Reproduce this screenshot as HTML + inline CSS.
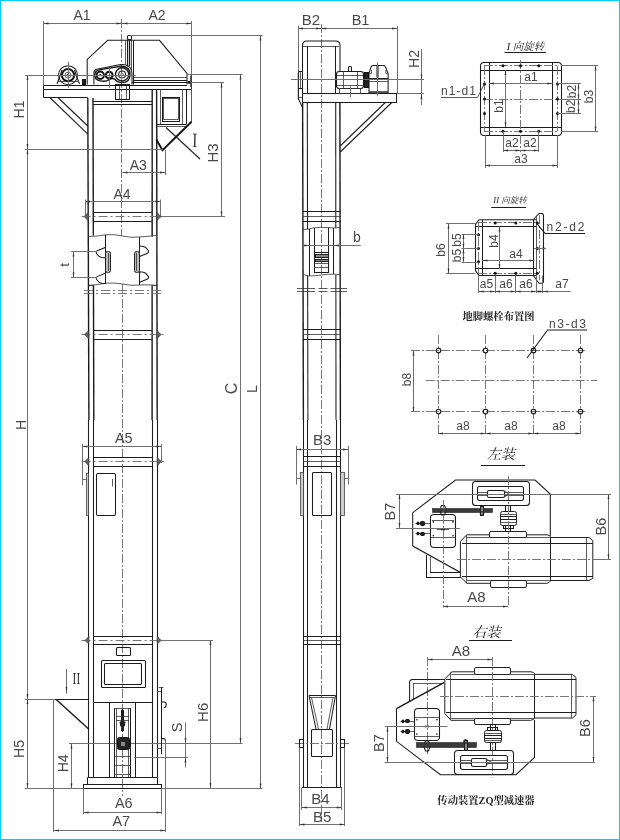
<!DOCTYPE html>
<html lang="zh"><head><meta charset="utf-8"><title>TH bucket elevator outline drawing</title>
<style>
html,body{margin:0;padding:0;background:#fff}
#wrap{position:relative;width:620px;height:840px;box-sizing:border-box;border:1px solid #00ccff;background:#fff;overflow:hidden}
svg{will-change:transform;position:absolute;left:-1px;top:-1px;width:620px;height:840px;display:block}
.m{stroke:#1c1c1c;stroke-width:1.05;fill:none}
.m2{stroke:#1a1a1a;stroke-width:1.4;fill:none}
.n{stroke:#333;stroke-width:.8;fill:none}
.t{stroke:#707070;stroke-width:1;fill:none}
.c{stroke:#777;stroke-width:1;fill:none;stroke-dasharray:9 2 2 2}
.d{stroke:#777;stroke-width:1;fill:none;stroke-dasharray:9 3 2 3}
.b{stroke:#111;stroke-width:1.9;fill:none;stroke-linecap:round}
.b2{stroke:#111;stroke-width:2;fill:none}
.k{stroke:#111;stroke-width:1;fill:#222}
.g{stroke:#222;stroke-width:1;fill:#888}
.g2{stroke:#222;stroke-width:1;fill:#bbb}
.tri{stroke:#333;stroke-width:.6;fill:#666}
.g3{stroke:#444;stroke-width:.8;fill:#ccc}
.ch{stroke:#222;stroke-width:.6;fill:#3a3a3a}
.bk{fill:#111;stroke:none}
.ar{fill:#333;stroke:none}
.w{stroke:#222;stroke-width:1;fill:#fff}
text{font-family:"Liberation Sans","Noto Sans CJK SC",sans-serif;fill:#484848}
.sf{font-family:"Liberation Serif",serif;fill:#333}
.cj{font-family:"Liberation Serif","Noto Serif CJK SC",serif;fill:#222}
</style></head><body>
<div id="wrap">
<svg width="620" height="840" viewBox="0 0 620 840">
<g id="front-view">
<line class="t" x1="43" y1="23.5" x2="191.5" y2="23.5"/>
<path class="ar" d="M43.5 23.5 L48.5 22.6 L48.5 24.4 Z"/>
<path class="ar" d="M121.5 23.5 L116.5 24.4 L116.5 22.6 Z"/>
<path class="ar" d="M122.5 23.5 L127.5 22.6 L127.5 24.4 Z"/>
<path class="ar" d="M191.5 23.5 L186.5 24.4 L186.5 22.6 Z"/>
<line class="t" x1="43.5" y1="21" x2="43.5" y2="85"/>
<line class="t" x1="191.5" y1="21" x2="191.5" y2="89"/>
<text class="tx" x="82" y="20" font-size="14" text-anchor="middle">A1</text>
<text class="tx" x="157" y="20" font-size="14" text-anchor="middle">A2</text>
<line class="c" x1="121.5" y1="19" x2="121.5" y2="236"/>
<line class="c" x1="122.5" y1="284" x2="122.5" y2="796"/>
<path class="m" d="M87.2 84.6 L87.2 59.4 L107.7 40.3 L159.5 40.3 L187 73.5 L187 84.6"/>
<line class="n" x1="133.8" y1="77.5" x2="187" y2="77.5"/>
<line class="m" x1="133.8" y1="80.5" x2="187" y2="80.5"/>
<line class="m" x1="132" y1="82.5" x2="187" y2="82.5"/>
<line class="n" x1="125.5" y1="40.3" x2="125.5" y2="64.5"/>
<line class="m" x1="127.5" y1="39.5" x2="127.5" y2="66.5"/>
<line class="m2" x1="129.5" y1="39.5" x2="129.5" y2="66"/>
<line class="n" x1="131.5" y1="39.5" x2="131.5" y2="70"/>
<line class="m" x1="133.5" y1="40.3" x2="133.5" y2="84.6"/>
<rect class="m" x="127.5" y="35.5" width="4" height="4" rx="1"/>
<circle class="bk" cx="189" cy="82.3" r="1.5"/>
<line class="n" x1="190.5" y1="76" x2="190.5" y2="87"/>
<line class="m" x1="44" y1="85.5" x2="187" y2="85.5"/>
<line class="m" x1="44" y1="89.5" x2="191" y2="89.5"/>
<line class="m" x1="43.5" y1="85.2" x2="43.5" y2="97.7"/>
<line class="m" x1="44" y1="97.5" x2="87.8" y2="97.5"/>
<line class="m" x1="93" y1="101.5" x2="152.2" y2="101.5"/>
<line class="m" x1="93" y1="104.5" x2="152.2" y2="104.5"/>
<rect class="m" x="115.5" y="84.5" width="14" height="15"/>
<line class="n" x1="119.5" y1="84" x2="119.5" y2="99"/>
<line class="n" x1="126.5" y1="84" x2="126.5" y2="99"/>
<line class="m" x1="50.3" y1="98" x2="87.8" y2="134.2"/>
<line class="m" x1="58.4" y1="98" x2="87.8" y2="126"/>
<circle class="m" cx="68" cy="75.2" r="9.5"/>
<circle class="b2" cx="68" cy="75.2" r="6.1"/>
<circle class="n" cx="68" cy="75.2" r="3"/>
<circle class="bk" cx="68" cy="75.2" r="1.2"/>
<path class="m" d="M57 84 L60 76 L62 70"/>
<path class="m" d="M79.5 84 L76.5 76 L74.5 70"/>
<line class="n" x1="57.5" y1="81.5" x2="79" y2="81.5"/>
<rect class="k" x="82.5" y="79.5" width="3" height="5"/>
<line class="t" x1="68.5" y1="62" x2="68.5" y2="88"/>
<path class="m" d="M93.9 84.6 L93.9 72.5 Q94.2 69.8 96.8 69.3 L120.5 64.6 Q131.5 63.6 132 74 L132 84.6"/>
<path class="m2" d="M100 69.6 L121 66.3 Q130 66.3 130 74.5 Q130 82.6 122 82.6 Q117 82.6 114.8 79.2 Q112 77.6 109.2 79.6 Q106 82 100.3 80.9 Q94.8 80 94.8 75.2 Q94.8 70.4 100 69.6 Z"/>
<circle class="b2" cx="100.3" cy="75.2" r="3.7"/>
<circle class="bk" cx="100.3" cy="75.2" r="1.1"/>
<circle class="b2" cx="109.2" cy="75.2" r="3.4"/>
<circle class="m2" cx="122.1" cy="74.4" r="6.6"/>
<circle class="m" cx="122.1" cy="74.4" r="3.5"/>
<circle class="n" cx="122.1" cy="74.4" r="1.2"/>
<line class="t" x1="109.5" y1="68" x2="109.5" y2="88"/>
<line class="m2" x1="87.8" y1="98" x2="88.9" y2="420"/>
<line class="m" x1="88.5" y1="420" x2="88.5" y2="777.5"/>
<line class="m2" x1="156.6" y1="89" x2="157.2" y2="420"/>
<line class="m" x1="157.5" y1="420" x2="157.5" y2="777.5"/>
<line class="m2" x1="93" y1="98" x2="93.34" y2="235.6"/>
<line class="m2" x1="152.2" y1="89" x2="152.16" y2="236.6"/>
<line class="m2" x1="93.47" y1="285.3" x2="93.8" y2="420"/>
<line class="m" x1="93.5" y1="420" x2="93.5" y2="777.5"/>
<line class="m2" x1="152.14" y1="285.3" x2="152.1" y2="420"/>
<line class="m" x1="152.5" y1="420" x2="152.5" y2="777.5"/>
<line class="n" x1="191.5" y1="74" x2="191.5" y2="122.5"/>
<line class="m" x1="156.6" y1="124.5" x2="186.5" y2="124.5"/>
<line class="n" x1="156.6" y1="126.5" x2="186.5" y2="126.5"/>
<line class="n" x1="160.5" y1="89" x2="160.5" y2="124"/>
<line class="n" x1="182.5" y1="89" x2="182.5" y2="124"/>
<line class="m" x1="186.5" y1="89" x2="186.5" y2="124"/>
<rect class="m" x="162.5" y="97.5" width="17" height="24"/>
<rect class="n" x="163.5" y="98.5" width="15" height="21"/>
<path class="b" d="M156.6 140 L162.5 150.3 L191 122.2"/>
<line class="n" x1="156.8" y1="127.5" x2="156.8" y2="140"/>
<line class="m" x1="166" y1="127.5" x2="200" y2="159"/>
<text class="sf" font-size="20.5" text-anchor="middle" transform="translate(194.8 147) rotate(1) scale(.72 1)">I</text>
<line class="t" x1="27.5" y1="75" x2="27.5" y2="788"/>
<path class="ar" d="M27.5 75 L28.4 80 L26.6 80 Z"/>
<path class="ar" d="M27.5 149 L26.6 144 L28.4 144 Z"/>
<path class="ar" d="M27.5 149 L28.4 154 L26.6 154 Z"/>
<line class="t" x1="25" y1="75.5" x2="136" y2="75.5"/>
<line class="t" x1="25" y1="149.5" x2="162.5" y2="149.5"/>
<text class="tx" x="23.7" y="109.5" font-size="14" text-anchor="middle" transform="rotate(-90 23.7 109.5)">H1</text>
<text class="tx" x="26" y="425" font-size="14" text-anchor="middle" transform="rotate(-90 26 425)">H</text>
<path class="ar" d="M27.5 699 L26.6 694 L28.4 694 Z"/>
<path class="ar" d="M27.5 699 L28.4 704 L26.6 704 Z"/>
<path class="ar" d="M27.5 788 L26.6 783 L28.4 783 Z"/>
<line class="t" x1="25" y1="699.5" x2="55" y2="699.5"/>
<line class="t" x1="25" y1="788.5" x2="84" y2="788.5"/>
<text class="tx" x="23.5" y="749" font-size="14" text-anchor="middle" transform="rotate(-90 23.5 749)">H5</text>
<line class="t" x1="130" y1="35.5" x2="262.5" y2="35.5"/>
<line class="t" x1="260.5" y1="35.5" x2="260.5" y2="788.5"/>
<path class="ar" d="M260.5 35.5 L261.4 40.5 L259.6 40.5 Z"/>
<path class="ar" d="M260.5 788.5 L259.6 783.5 L261.4 783.5 Z"/>
<line class="t" x1="187" y1="74.5" x2="242.5" y2="74.5"/>
<line class="t" x1="240.5" y1="74.5" x2="240.5" y2="743"/>
<path class="ar" d="M240.5 74.5 L241.4 79.5 L239.6 79.5 Z"/>
<path class="ar" d="M240.5 743 L239.6 738 L241.4 738 Z"/>
<line class="t" x1="191" y1="82.5" x2="224" y2="82.5"/>
<line class="t" x1="221.5" y1="82.5" x2="221.5" y2="216.5"/>
<path class="ar" d="M221.5 82.5 L222.4 87.5 L220.6 87.5 Z"/>
<path class="ar" d="M221.5 216.5 L220.6 211.5 L222.4 211.5 Z"/>
<line class="t" x1="159" y1="216.5" x2="225" y2="216.5"/>
<text class="tx" x="218" y="153" font-size="15" text-anchor="middle" transform="rotate(-90 218 153)">H3</text>
<text class="tx" x="237.2" y="388.4" font-size="16" text-anchor="middle" transform="rotate(-90 237.2 388.4)">C</text>
<text class="tx" x="257" y="389" font-size="14.5" text-anchor="middle" transform="rotate(-90 257 389)">L</text>
<line class="t" x1="157" y1="788.5" x2="262.5" y2="788.5"/>
<line class="t" x1="69" y1="743.5" x2="242.5" y2="743.5"/>
<line class="t" x1="122.5" y1="172.5" x2="165" y2="172.5"/>
<path class="ar" d="M122.5 172.5 L127.5 171.6 L127.5 173.4 Z"/>
<path class="ar" d="M165 172.5 L160 173.4 L160 171.6 Z"/>
<line class="t" x1="165.5" y1="150" x2="165.5" y2="175"/>
<text class="tx" x="138.3" y="170" font-size="14" text-anchor="middle">A3</text>
<line class="t" x1="85" y1="201.5" x2="160.5" y2="201.5"/>
<path class="ar" d="M85 201.5 L90 200.6 L90 202.4 Z"/>
<path class="ar" d="M160.5 201.5 L155.5 202.4 L155.5 200.6 Z"/>
<line class="t" x1="85.5" y1="199.5" x2="85.5" y2="217.5"/>
<line class="t" x1="160.5" y1="199.5" x2="160.5" y2="217.5"/>
<text class="tx" x="122" y="199" font-size="14" text-anchor="middle">A4</text>
<line class="m" x1="93.29" y1="212.5" x2="152.16" y2="212.5"/>
<line class="m" x1="93.29" y1="221.5" x2="152.16" y2="221.5"/>
<line class="d" x1="81.6" y1="216.5" x2="164.5" y2="216.5"/>
<path class="tri" d="M84.1 216.5 L88.2 212.4 L88.2 220.8 Z"/>
<path class="tri" d="M160.92 216.5 L156.82 212.4 L156.82 220.8 Z"/>
<line class="m" x1="93.59" y1="330.5" x2="152.13" y2="330.5"/>
<line class="m" x1="93.59" y1="339.5" x2="152.13" y2="339.5"/>
<line class="d" x1="81.6" y1="334.5" x2="164.5" y2="334.5"/>
<path class="tri" d="M84.51 334.5 L88.61 330.7 L88.61 338.8 Z"/>
<path class="tri" d="M161.14 334.5 L157.04 330.7 L157.04 338.8 Z"/>
<line class="m" x1="93.8" y1="457.5" x2="152.1" y2="457.5"/>
<line class="m" x1="93.8" y1="466.5" x2="152.1" y2="466.5"/>
<line class="d" x1="81.6" y1="461.5" x2="164.5" y2="461.5"/>
<path class="tri" d="M84.8 461.5 L88.9 457.4 L88.9 466.1 Z"/>
<path class="tri" d="M161.3 461.5 L157.2 457.4 L157.2 466.1 Z"/>
<line class="m" x1="93.8" y1="636.5" x2="152.1" y2="636.5"/>
<line class="m" x1="93.8" y1="644.5" x2="152.1" y2="644.5"/>
<line class="d" x1="81.6" y1="640.5" x2="164.5" y2="640.5"/>
<path class="tri" d="M84.8 640.5 L88.9 636.4 L88.9 643.8 Z"/>
<path class="tri" d="M161.3 640.5 L157.2 636.4 L157.2 643.8 Z"/>
<path class="n" d="M88.3 236.5 Q97 236.5 105.8 234.8 Q114 234 122.5 236 Q131 238 139 237 Q148 236.5 156.9 235.3"/>
<path class="n" d="M88.6 285.3 Q97 285 105.8 283.2 Q114 282.5 122.5 284 Q131 286 139 285 Q148 284.5 157.2 285.3"/>
<line class="m" x1="105.5" y1="234.8" x2="105.5" y2="283.2"/>
<line class="m" x1="139.5" y1="237" x2="139.5" y2="285"/>
<path class="m" d="M105.8 247.2 L97.2 250.8 Q95.4 252.2 97 254.2 Q99.3 257.5 102.3 257.7 L105.8 257.8"/>
<path class="m" d="M105.8 273 L97.2 276.6 Q95.4 278 97 280 Q99.3 283.3 102.3 283.5 L105.8 283.6"/>
<path class="m" d="M139 256.8 L147.6 253.2 Q149.4 251.8 147.8 249.8 Q145.5 246.5 142.5 246.3 L139 246.2"/>
<path class="m" d="M139 282.6 L147.6 279 Q149.4 277.6 147.8 275.6 Q145.5 272.3 142.5 272.1 L139 272"/>
<rect class="g2" x="105.5" y="251.5" width="5" height="21" rx="2"/>
<rect class="g2" x="134.5" y="251.5" width="5" height="21" rx="2"/>
<line class="n" x1="108.5" y1="253" x2="108.5" y2="271"/>
<line class="n" x1="136.5" y1="253" x2="136.5" y2="271"/>
<line class="t" x1="73.5" y1="251.6" x2="73.5" y2="277.3"/>
<path class="ar" d="M73.5 251.6 L74.4 256.6 L72.6 256.6 Z"/>
<path class="ar" d="M73.5 277.3 L72.6 272.3 L74.4 272.3 Z"/>
<line class="t" x1="71" y1="251.5" x2="97" y2="251.5"/>
<line class="t" x1="71" y1="277.5" x2="97" y2="277.5"/>
<text class="tx" x="69" y="265" font-size="13" text-anchor="middle" transform="rotate(-90 69 265)">t</text>
<line class="d" x1="84" y1="290.5" x2="161" y2="290.5"/>
<line class="d" x1="84" y1="293.5" x2="161" y2="293.5"/>
<line class="n" x1="88.9" y1="285.5" x2="93.8" y2="285.5"/>
<line class="n" x1="152.1" y1="285.5" x2="157.2" y2="285.5"/>
<line class="t" x1="82.3" y1="446.5" x2="161.3" y2="446.5"/>
<path class="ar" d="M82.3 446.5 L87.3 445.6 L87.3 447.4 Z"/>
<path class="ar" d="M161.3 446.5 L156.3 447.4 L156.3 445.6 Z"/>
<line class="t" x1="82.5" y1="444" x2="82.5" y2="485.5"/>
<line class="t" x1="82.3" y1="479.5" x2="86.3" y2="479.5"/>
<line class="t" x1="161.5" y1="444" x2="161.5" y2="463"/>
<text class="tx" x="123.8" y="443" font-size="14.5" text-anchor="middle">A5</text>
<rect class="m" x="96.5" y="473.5" width="19" height="42" rx="1.5"/>
<rect class="g3" x="86.5" y="473.5" width="2" height="42"/>
<line class="n" x1="112.5" y1="479" x2="112.5" y2="486.5"/>
<rect class="m" x="116.5" y="647.5" width="14" height="8" rx="1"/>
<rect class="m" x="101.5" y="660.5" width="44" height="27" rx="1"/>
<rect class="m" x="104.5" y="663.5" width="37" height="21" rx="1"/>
<line class="m" x1="93.8" y1="702.5" x2="152.1" y2="702.5"/>
<line class="m" x1="55" y1="699.5" x2="88.9" y2="699.5"/>
<line class="m2" x1="56.2" y1="699.5" x2="88.9" y2="729.3"/>
<line class="t" x1="53.5" y1="699" x2="53.5" y2="832"/>
<text class="sf" font-size="16" text-anchor="middle" transform="translate(76.4 683.6) scale(.72 1)">II</text>
<line class="t" x1="66.5" y1="669" x2="66.5" y2="693.7"/>
<path class="ar" d="M66.5 692 L65.6 687 L67.4 687 Z"/>
<line class="t" x1="71.5" y1="743.5" x2="71.5" y2="788.5"/>
<path class="ar" d="M71.5 743.5 L72.4 748.5 L70.6 748.5 Z"/>
<path class="ar" d="M71.5 788.5 L70.6 783.5 L72.4 783.5 Z"/>
<text class="tx" x="67.7" y="763.3" font-size="14" text-anchor="middle" transform="rotate(-90 67.7 763.3)">H4</text>
<line class="m" x1="109.5" y1="702.5" x2="109.5" y2="777.5"/>
<line class="m" x1="135.5" y1="702.5" x2="135.5" y2="777.5"/>
<line class="m" x1="114.5" y1="708" x2="114.5" y2="777.5"/>
<line class="m" x1="130.5" y1="708" x2="130.5" y2="777.5"/>
<line class="n" x1="114" y1="708.5" x2="130.5" y2="708.5"/>
<line class="n" x1="116.5" y1="708" x2="116.5" y2="777.5"/>
<line class="n" x1="128.5" y1="708" x2="128.5" y2="777.5"/>
<rect class="k" x="121.5" y="709.5" width="2" height="13" rx="1"/>
<path class="k" d="M120 722 L125 722 L124.2 726 L123.3 727 L123.3 731 L121.7 731 L121.7 727 L120.8 726 Z"/>
<line class="n" x1="116" y1="716.5" x2="129" y2="716.5"/>
<line class="n" x1="116" y1="720.5" x2="129" y2="720.5"/>
<rect class="k" x="117.5" y="737.5" width="12" height="12" rx="2"/>
<rect class="g" x="120.5" y="741.5" width="5" height="5" rx="1"/>
<line class="n" x1="114" y1="756.5" x2="130.5" y2="756.5"/>
<line class="n" x1="114" y1="765.5" x2="130.5" y2="765.5"/>
<line class="n" x1="114" y1="774.5" x2="130.5" y2="774.5"/>
<line class="m" x1="87.5" y1="777.5" x2="157" y2="777.5"/>
<line class="m" x1="83.7" y1="784.5" x2="161.5" y2="784.5"/>
<line class="m" x1="83.7" y1="788.5" x2="161.5" y2="788.5"/>
<line class="m" x1="87.5" y1="777.5" x2="87.5" y2="784"/>
<line class="m" x1="157.5" y1="777.5" x2="157.5" y2="784"/>
<line class="m" x1="83.5" y1="784" x2="83.5" y2="788.5"/>
<line class="m" x1="161.5" y1="784" x2="161.5" y2="788.5"/>
<line class="m" x1="161.5" y1="687" x2="161.5" y2="754.3"/>
<line class="n" x1="158.5" y1="687.5" x2="163.5" y2="687.5"/>
<line class="n" x1="157.2" y1="691.5" x2="161.4" y2="691.5"/>
<line class="n" x1="157.2" y1="748.5" x2="161.4" y2="748.5"/>
<path class="m" d="M161.4 702 L164.5 702 Q166.3 702.3 166.2 704.8 Q166.2 707.6 163.6 707.8"/>
<path class="m" d="M161.4 738.6 L164 738.6 Q165.4 738.8 165.4 741"/>
<line class="t" x1="165.5" y1="741" x2="165.5" y2="832"/>
<line class="t" x1="160" y1="640.5" x2="213" y2="640.5"/>
<line class="t" x1="210.5" y1="640" x2="210.5" y2="788"/>
<path class="ar" d="M210.5 640 L211.4 645 L209.6 645 Z"/>
<path class="ar" d="M210.5 788 L209.6 783 L211.4 783 Z"/>
<text class="tx" x="207.8" y="712.3" font-size="15" text-anchor="middle" transform="rotate(-90 207.8 712.3)">H6</text>
<line class="t" x1="185.5" y1="722.5" x2="185.5" y2="767.5"/>
<path class="ar" d="M185.5 743 L184.6 738 L186.4 738 Z"/>
<path class="ar" d="M185.5 757.5 L186.4 762.5 L184.6 762.5 Z"/>
<line class="t" x1="134" y1="757.5" x2="187.9" y2="757.5"/>
<text class="tx" x="181.5" y="727.5" font-size="14.5" text-anchor="middle" transform="rotate(-90 181.5 727.5)">S</text>
<line class="t" x1="83.7" y1="812.5" x2="161.5" y2="812.5"/>
<path class="ar" d="M83.7 812.5 L88.7 811.6 L88.7 813.4 Z"/>
<path class="ar" d="M161.5 812.5 L156.5 813.4 L156.5 811.6 Z"/>
<line class="t" x1="83.5" y1="788.5" x2="83.5" y2="814"/>
<line class="t" x1="161.5" y1="788.5" x2="161.5" y2="814"/>
<text class="tx" x="123.8" y="808.2" font-size="14.5" text-anchor="middle">A6</text>
<line class="t" x1="53.9" y1="830.5" x2="165.5" y2="830.5"/>
<path class="ar" d="M53.9 830.5 L58.9 829.6 L58.9 831.4 Z"/>
<path class="ar" d="M165.5 830.5 L160.5 831.4 L160.5 829.6 Z"/>
<text class="tx" x="121.3" y="825.8" font-size="14.5" text-anchor="middle">A7</text>
</g>
<g id="side-view">
<line class="t" x1="298" y1="28.5" x2="397" y2="28.5"/>
<path class="ar" d="M298 28.5 L303 27.6 L303 29.4 Z"/>
<path class="ar" d="M321.2 28.5 L316.2 29.4 L316.2 27.6 Z"/>
<path class="ar" d="M321.2 28.5 L326.2 27.6 L326.2 29.4 Z"/>
<path class="ar" d="M397 28.5 L392 29.4 L392 27.6 Z"/>
<line class="t" x1="298.5" y1="26" x2="298.5" y2="100"/>
<line class="t" x1="397.5" y1="26" x2="397.5" y2="94"/>
<text class="tx" x="311" y="25" font-size="15" text-anchor="middle">B2</text>
<text class="tx" x="360.5" y="25" font-size="14.5" text-anchor="middle">B1</text>
<line class="c" x1="321.5" y1="24" x2="321.5" y2="250"/>
<line class="c" x1="321.5" y1="250" x2="321.5" y2="822"/>
<path class="m" d="M302.5 94 L302.5 45.5 Q302.5 41 307 41 L335.5 41 Q340 41 340 45.5 L340 72"/>
<line class="n" x1="303" y1="46.5" x2="339" y2="46.5"/>
<line class="m" x1="307.5" y1="46" x2="307.5" y2="94"/>
<line class="m" x1="335.5" y1="46" x2="335.5" y2="94"/>
<rect class="m" x="302.5" y="93.5" width="94" height="9"/>
<path class="m" d="M302.5 71.4 L299.6 71.4 Q298.3 71.4 298.3 73 L298.3 98.6 L302.5 107.5"/>
<line class="n" x1="300.5" y1="72" x2="300.5" y2="88"/>
<line class="m" x1="298.3" y1="88.5" x2="302.5" y2="88.5"/>
<line class="n" x1="298.3" y1="97.5" x2="302.5" y2="97.5"/>
<line class="m" x1="391.8" y1="102.5" x2="340.2" y2="152"/>
<line class="m" x1="385.3" y1="102.5" x2="340.2" y2="146"/>
<line class="m2" x1="302.6" y1="102.5" x2="303.4" y2="420"/>
<line class="m" x1="303.5" y1="420" x2="303.5" y2="787.5"/>
<line class="m2" x1="339.9" y1="102.5" x2="340.4" y2="420"/>
<line class="m" x1="340.5" y1="420" x2="340.5" y2="787.5"/>
<line class="m" x1="307.3" y1="102.5" x2="307.54" y2="229.3"/>
<line class="m" x1="335.7" y1="102.5" x2="335.82" y2="228"/>
<line class="m" x1="307.63" y1="275.3" x2="307.9" y2="420"/>
<line class="m" x1="307.5" y1="420" x2="307.5" y2="787.5"/>
<line class="m" x1="335.86" y1="275" x2="336" y2="420"/>
<line class="m" x1="336.5" y1="420" x2="336.5" y2="787.5"/>
<rect class="m" x="336.5" y="71.5" width="27" height="17" rx="2.8"/>
<line class="n" x1="343.5" y1="71.4" x2="343.5" y2="88.9"/>
<line class="n" x1="357.5" y1="71.4" x2="357.5" y2="88.9"/>
<line class="n" x1="337" y1="75.5" x2="363" y2="75.5"/>
<line class="n" x1="337" y1="85.5" x2="363" y2="85.5"/>
<rect class="m" x="348.5" y="66.5" width="3" height="5" rx="1"/>
<rect class="n" x="339.5" y="88.5" width="21" height="5"/>
<rect class="k" x="364.5" y="72.5" width="4" height="15"/>
<path class="m" d="M369 92.8 L369 73 L371.2 66.6 Q371.8 65.4 373.2 65.4 L383.4 65.4 Q385.5 65.6 386.5 69.5 L388.1 73.6 L388.1 92.8 Z"/>
<line class="b2" x1="377.5" y1="65.4" x2="377.5" y2="77.6"/>
<line class="m" x1="369" y1="78.5" x2="388.1" y2="78.5"/>
<line class="n" x1="369" y1="79.5" x2="388.1" y2="79.5"/>
<line class="n" x1="369" y1="81.5" x2="388.1" y2="81.5"/>
<line class="n" x1="369" y1="91.5" x2="388.1" y2="91.5"/>
<path class="n" d="M369.3 73.6 L371.5 73.6 L371.5 70"/>
<path class="n" d="M387.8 73.6 L385.8 73.6 L385.8 70"/>
<line class="t" x1="377.5" y1="62.3" x2="377.5" y2="96.2"/>
<line class="t" x1="350.5" y1="86" x2="350.5" y2="97"/>
<line class="t" x1="291" y1="79.5" x2="424" y2="79.5"/>
<line class="t" x1="397" y1="93.5" x2="424" y2="93.5"/>
<line class="t" x1="421.5" y1="49" x2="421.5" y2="105"/>
<path class="ar" d="M421.5 79.5 L420.6 74.5 L422.4 74.5 Z"/>
<path class="ar" d="M421.5 94 L422.4 99 L420.6 99 Z"/>
<text class="tx" x="418.5" y="59" font-size="14" text-anchor="middle" transform="rotate(-90 418.5 59)">H2</text>
<line class="m" x1="303" y1="211.5" x2="341" y2="211.5"/>
<line class="n" x1="303" y1="216.5" x2="341" y2="216.5"/>
<line class="m" x1="303" y1="221.5" x2="341" y2="221.5"/>
<line class="m" x1="303" y1="329.5" x2="341" y2="329.5"/>
<line class="n" x1="303" y1="334.5" x2="341" y2="334.5"/>
<line class="m" x1="303" y1="339.5" x2="341" y2="339.5"/>
<line class="m" x1="303" y1="456.5" x2="341" y2="456.5"/>
<line class="n" x1="303" y1="461.5" x2="341" y2="461.5"/>
<line class="m" x1="303" y1="466.5" x2="341" y2="466.5"/>
<line class="m" x1="303" y1="636.5" x2="341" y2="636.5"/>
<line class="n" x1="303" y1="640.5" x2="341" y2="640.5"/>
<line class="m" x1="303" y1="644.5" x2="341" y2="644.5"/>
<path class="n" d="M303.4 229.5 Q308 229.5 313 228 Q321 226.8 328 227.6 Q334 228.3 340.4 227.5"/>
<path class="n" d="M303.4 274.6 Q308 276.5 314 275.8 Q321 275 328 274.3 Q334 273.8 340.4 274.8"/>
<line class="m" x1="309.5" y1="229" x2="309.5" y2="275.8"/>
<line class="m" x1="333.5" y1="228" x2="333.5" y2="274"/>
<line class="m" x1="314.5" y1="228" x2="314.5" y2="272"/>
<line class="m" x1="328.5" y1="227.6" x2="328.5" y2="272"/>
<line class="t" x1="303.4" y1="245.5" x2="360.7" y2="245.5"/>
<path class="ar" d="M309.4 245.5 L304.4 246.4 L304.4 244.6 Z"/>
<path class="ar" d="M333.9 245.5 L338.9 244.6 L338.9 246.4 Z"/>
<text class="tx" x="356.8" y="241.5" font-size="14" text-anchor="middle">b</text>
<rect class="m" x="314.5" y="252.5" width="14" height="20"/>
<rect class="g" x="315.5" y="254.5" width="13" height="3"/>
<rect class="g" x="315.5" y="259.5" width="13" height="2"/>
<line class="n" x1="314.5" y1="263.5" x2="328.7" y2="263.5"/>
<line class="n" x1="314.5" y1="267.5" x2="328.7" y2="267.5"/>
<line class="n" x1="297" y1="288.5" x2="315" y2="288.5"/>
<line class="n" x1="297" y1="291.5" x2="315" y2="291.5"/>
<line class="n" x1="318.5" y1="288.5" x2="327.5" y2="288.5"/>
<line class="n" x1="318.5" y1="291.5" x2="327.5" y2="291.5"/>
<line class="n" x1="330.5" y1="288.5" x2="347" y2="288.5"/>
<line class="n" x1="330.5" y1="291.5" x2="347" y2="291.5"/>
<line class="t" x1="296" y1="449.5" x2="348" y2="449.5"/>
<path class="ar" d="M296 449.5 L301 448.6 L301 450.4 Z"/>
<path class="ar" d="M348 449.5 L343 450.4 L343 448.6 Z"/>
<line class="t" x1="296.5" y1="446" x2="296.5" y2="484.5"/>
<line class="t" x1="348.5" y1="446" x2="348.5" y2="484.5"/>
<line class="t" x1="296" y1="478.5" x2="300.5" y2="478.5"/>
<line class="t" x1="344.2" y1="478.5" x2="348" y2="478.5"/>
<text class="tx" x="322.3" y="445" font-size="15" text-anchor="middle">B3</text>
<rect class="m" x="312.5" y="472.5" width="19" height="43" rx="1"/>
<rect class="g3" x="300.5" y="472.5" width="3" height="43"/>
<rect class="g3" x="340.5" y="472.5" width="4" height="43"/>
<line class="m" x1="309" y1="695.5" x2="335.5" y2="695.5"/>
<line class="n" x1="310" y1="697.5" x2="334.5" y2="697.5"/>
<line class="m" x1="309" y1="695.5" x2="316" y2="729"/>
<line class="n" x1="311.5" y1="697.5" x2="318.5" y2="729"/>
<line class="m" x1="335.5" y1="695.5" x2="329.5" y2="729"/>
<line class="n" x1="333" y1="697.5" x2="327" y2="729"/>
<rect class="m" x="311.5" y="729.5" width="21" height="27" rx="1"/>
<line class="c" x1="295" y1="743.5" x2="351" y2="743.5"/>
<rect class="m" x="299.5" y="739.5" width="4" height="8"/>
<rect class="m" x="340.5" y="739.5" width="4" height="8"/>
<line class="t" x1="299.5" y1="747.5" x2="299.5" y2="826"/>
<line class="t" x1="344.5" y1="747.5" x2="344.5" y2="826"/>
<line class="m" x1="301.8" y1="787.5" x2="342" y2="787.5"/>
<line class="t" x1="301.5" y1="787.5" x2="301.5" y2="810"/>
<line class="t" x1="341.5" y1="787.5" x2="341.5" y2="810"/>
<line class="t" x1="301.8" y1="807.5" x2="341.8" y2="807.5"/>
<path class="ar" d="M301.8 807.5 L306.8 806.6 L306.8 808.4 Z"/>
<path class="ar" d="M341.8 807.5 L336.8 808.4 L336.8 806.6 Z"/>
<text class="tx" x="320.5" y="804" font-size="15" text-anchor="middle">B4</text>
<line class="t" x1="299.5" y1="824.5" x2="344.7" y2="824.5"/>
<path class="ar" d="M299.5 824.5 L304.5 823.6 L304.5 825.4 Z"/>
<path class="ar" d="M344.7 824.5 L339.7 825.4 L339.7 823.6 Z"/>
<text class="tx" x="322.3" y="821.5" font-size="15" text-anchor="middle" fill="#777">B5</text>
</g>
<g id="right-col">
<text class="cj" x="525.5" y="49.5" font-size="10.5" text-anchor="middle" font-style="italic">I 向旋转</text>
<line class="m" x1="504.5" y1="52.5" x2="546" y2="52.5"/>
<rect class="m" x="480.5" y="62.5" width="81" height="73" rx="3.5"/>
<line class="m" x1="489.5" y1="62" x2="489.5" y2="135"/>
<line class="m" x1="552.5" y1="62" x2="552.5" y2="135"/>
<line class="m" x1="480.5" y1="70.5" x2="561" y2="70.5"/>
<line class="m" x1="480.5" y1="127.5" x2="561" y2="127.5"/>
<line class="c" x1="484" y1="65.5" x2="558" y2="65.5"/>
<line class="c" x1="484" y1="131.5" x2="558" y2="131.5"/>
<line class="c" x1="484.5" y1="66" x2="484.5" y2="131"/>
<line class="c" x1="557.5" y1="66" x2="557.5" y2="131"/>
<line class="c" x1="484" y1="99.5" x2="560" y2="99.5"/>
<line class="c" x1="520.5" y1="60" x2="520.5" y2="152"/>
<circle class="bk" cx="503" cy="65.75" r="1.5"/>
<circle class="bk" cx="503" cy="131.25" r="1.5"/>
<circle class="bk" cx="520.5" cy="65.75" r="1.5"/>
<circle class="bk" cx="520.5" cy="131.25" r="1.5"/>
<circle class="bk" cx="538.75" cy="65.75" r="1.5"/>
<circle class="bk" cx="538.75" cy="131.25" r="1.5"/>
<circle class="bk" cx="484.5" cy="83.9" r="1.5"/>
<circle class="bk" cx="557.5" cy="83.9" r="1.5"/>
<circle class="bk" cx="484.5" cy="99" r="1.5"/>
<circle class="bk" cx="557.5" cy="99" r="1.5"/>
<circle class="bk" cx="484.5" cy="113.6" r="1.5"/>
<circle class="bk" cx="557.5" cy="113.6" r="1.5"/>
<line class="t" x1="489" y1="83.5" x2="552.5" y2="83.5"/>
<path class="ar" d="M489 83.5 L494 82.6 L494 84.4 Z"/>
<path class="ar" d="M552.5 83.5 L547.5 84.4 L547.5 82.6 Z"/>
<text class="tx" x="531" y="81" font-size="12" text-anchor="middle">a1</text>
<line class="t" x1="505.5" y1="70" x2="505.5" y2="127"/>
<path class="ar" d="M505.5 70 L506.4 75 L504.6 75 Z"/>
<path class="ar" d="M505.5 127 L504.6 122 L506.4 122 Z"/>
<text class="tx" x="503" y="106" font-size="12" text-anchor="middle" transform="rotate(-90 503 106)">b1</text>
<text class="tx" x="458.5" y="95" font-size="12" text-anchor="middle" textLength="35" lengthAdjust="spacing">n1-d1</text>
<path class="n" d="M441 97.5 L477.5 97.5 L485 82.5"/>
<line class="t" x1="503.5" y1="131" x2="503.5" y2="152"/>
<line class="t" x1="538.5" y1="131" x2="538.5" y2="152"/>
<line class="t" x1="503" y1="150.5" x2="538.75" y2="150.5"/>
<path class="ar" d="M503 150.5 L508 149.6 L508 151.4 Z"/>
<path class="ar" d="M520.5 150.5 L515.5 151.4 L515.5 149.6 Z"/>
<path class="ar" d="M520.5 150.5 L525.5 149.6 L525.5 151.4 Z"/>
<path class="ar" d="M538.75 150.5 L533.75 151.4 L533.75 149.6 Z"/>
<text class="tx" x="512" y="146.5" font-size="12" text-anchor="middle">a2</text>
<text class="tx" x="530" y="146.5" font-size="12" text-anchor="middle">a2</text>
<line class="t" x1="485.5" y1="135" x2="485.5" y2="168"/>
<line class="t" x1="557.5" y1="135" x2="557.5" y2="168"/>
<line class="t" x1="485" y1="165.5" x2="557.5" y2="165.5"/>
<path class="ar" d="M485 165.5 L490 164.6 L490 166.4 Z"/>
<path class="ar" d="M557.5 165.5 L552.5 166.4 L552.5 164.6 Z"/>
<text class="tx" x="521" y="163" font-size="12" text-anchor="middle">a3</text>
<line class="t" x1="557.5" y1="83.5" x2="581" y2="83.5"/>
<line class="t" x1="560" y1="99.5" x2="581" y2="99.5"/>
<line class="t" x1="557.5" y1="113.5" x2="581" y2="113.5"/>
<line class="t" x1="578.5" y1="83.5" x2="578.5" y2="114"/>
<path class="ar" d="M578.5 83.5 L579.4 88.5 L577.6 88.5 Z"/>
<path class="ar" d="M578.5 99.5 L577.6 94.5 L579.4 94.5 Z"/>
<path class="ar" d="M578.5 99.5 L579.4 104.5 L577.6 104.5 Z"/>
<path class="ar" d="M578.5 114 L577.6 109 L579.4 109 Z"/>
<text class="tx" x="575.5" y="91.5" font-size="12" text-anchor="middle" transform="rotate(-90 575.5 91.5)">b2</text>
<text class="tx" x="575.5" y="106.3" font-size="12" text-anchor="middle" transform="rotate(-90 575.5 106.3)">b2</text>
<line class="t" x1="561" y1="65.5" x2="598" y2="65.5"/>
<line class="t" x1="561" y1="131.5" x2="598" y2="131.5"/>
<line class="t" x1="595.5" y1="65.5" x2="595.5" y2="131.5"/>
<path class="ar" d="M595.5 65.5 L596.4 70.5 L594.6 70.5 Z"/>
<path class="ar" d="M595.5 131.5 L594.6 126.5 L596.4 126.5 Z"/>
<text class="tx" x="592.8" y="96.5" font-size="12" text-anchor="middle" transform="rotate(-90 592.8 96.5)">b3</text>
<text class="cj" x="510" y="203" font-size="8.5" text-anchor="middle" font-style="italic">II 向旋转</text>
<line class="m" x1="491.3" y1="207.5" x2="526" y2="207.5"/>
<path class="m" d="M536 219.8 L479 219.8 L475.5 224.5 L475.5 270.8 L479 275.4 L536 275.4"/>
<line class="m" x1="475.5" y1="226.5" x2="536" y2="226.5"/>
<line class="m" x1="475.5" y1="268.5" x2="536" y2="268.5"/>
<line class="m" x1="482.5" y1="220" x2="482.5" y2="275.5"/>
<line class="m" x1="533.5" y1="220" x2="533.5" y2="275.5"/>
<path class="m" d="M533.5 219.5 L539 213.4 L542 213.4 Q543.5 213.6 543.5 215.5 L543.5 281 Q543.5 283.2 541.8 283.2 L539 283.2 L533.5 275.8"/>
<line class="n" x1="536.5" y1="217" x2="536.5" y2="278.5"/>
<line class="c" x1="478" y1="222.5" x2="538" y2="222.5"/>
<line class="c" x1="478" y1="273.5" x2="538" y2="273.5"/>
<line class="c" x1="478.5" y1="222" x2="478.5" y2="273"/>
<line class="c" x1="539.5" y1="215" x2="539.5" y2="280"/>
<circle class="bk" cx="495.2" cy="223" r="1.5"/>
<circle class="bk" cx="495.2" cy="273.3" r="1.5"/>
<circle class="bk" cx="515.8" cy="223" r="1.5"/>
<circle class="bk" cx="515.8" cy="273.3" r="1.5"/>
<circle class="bk" cx="537.4" cy="223" r="1.5"/>
<circle class="bk" cx="537.4" cy="273.3" r="1.5"/>
<circle class="bk" cx="478.5" cy="234.7" r="1.5"/>
<circle class="bk" cx="478.5" cy="248.4" r="1.5"/>
<circle class="bk" cx="478.5" cy="261.8" r="1.5"/>
<circle class="bk" cx="537.4" cy="248.4" r="1.5"/>
<circle class="bk" cx="543.5" cy="248.4" r="1.2"/>
<line class="t" x1="534" y1="248.5" x2="546" y2="248.5"/>
<line class="t" x1="499.5" y1="226.5" x2="499.5" y2="269"/>
<path class="ar" d="M499.5 226.5 L500.4 231.5 L498.6 231.5 Z"/>
<path class="ar" d="M499.5 269 L498.6 264 L500.4 264 Z"/>
<text class="tx" x="497.5" y="241" font-size="12" text-anchor="middle" transform="rotate(-90 497.5 241)">b4</text>
<line class="t" x1="482.5" y1="260.5" x2="534.5" y2="260.5"/>
<path class="ar" d="M482.5 260.5 L487.5 259.6 L487.5 261.4 Z"/>
<path class="ar" d="M534.5 260.5 L529.5 261.4 L529.5 259.6 Z"/>
<text class="tx" x="516" y="257.5" font-size="12" text-anchor="middle">a4</text>
<line class="t" x1="446" y1="223.5" x2="475.5" y2="223.5"/>
<line class="t" x1="446" y1="273.5" x2="475.5" y2="273.5"/>
<line class="t" x1="448.5" y1="223.4" x2="448.5" y2="273.4"/>
<path class="ar" d="M448.5 223.4 L449.4 228.4 L447.6 228.4 Z"/>
<path class="ar" d="M448.5 273.4 L447.6 268.4 L449.4 268.4 Z"/>
<text class="tx" x="444.5" y="250" font-size="12" text-anchor="middle" transform="rotate(-90 444.5 250)">b6</text>
<line class="t" x1="461.5" y1="234.5" x2="478.5" y2="234.5"/>
<line class="t" x1="461.5" y1="248.5" x2="478.5" y2="248.5"/>
<line class="t" x1="461.5" y1="262.5" x2="478.5" y2="262.5"/>
<line class="t" x1="463.5" y1="234" x2="463.5" y2="262"/>
<path class="ar" d="M463.5 234 L464.4 239 L462.6 239 Z"/>
<path class="ar" d="M463.5 248.4 L462.6 243.4 L464.4 243.4 Z"/>
<path class="ar" d="M463.5 248.4 L464.4 253.4 L462.6 253.4 Z"/>
<path class="ar" d="M463.5 262 L462.6 257 L464.4 257 Z"/>
<text class="tx" x="461" y="240" font-size="12" text-anchor="middle" transform="rotate(-90 461 240)">b5</text>
<text class="tx" x="461" y="255.5" font-size="12" text-anchor="middle" transform="rotate(-90 461 255.5)">b5</text>
<line class="t" x1="478.5" y1="291.5" x2="570.6" y2="291.5"/>
<line class="t" x1="478.5" y1="275.5" x2="478.5" y2="293"/>
<line class="t" x1="495.5" y1="275.5" x2="495.5" y2="293"/>
<line class="t" x1="515.5" y1="275.5" x2="515.5" y2="293"/>
<line class="t" x1="536.5" y1="275.5" x2="536.5" y2="293"/>
<line class="t" x1="542.5" y1="275.5" x2="542.5" y2="293"/>
<path class="ar" d="M478.7 291.5 L483.7 290.6 L483.7 292.4 Z"/>
<path class="ar" d="M495 291.5 L490 292.4 L490 290.6 Z"/>
<path class="ar" d="M495 291.5 L500 290.6 L500 292.4 Z"/>
<path class="ar" d="M515.7 291.5 L510.7 292.4 L510.7 290.6 Z"/>
<path class="ar" d="M515.7 291.5 L520.7 290.6 L520.7 292.4 Z"/>
<path class="ar" d="M536 291.5 L531 292.4 L531 290.6 Z"/>
<path class="ar" d="M536 291.5 L541 290.6 L541 292.4 Z"/>
<path class="ar" d="M542.8 291.5 L537.8 292.4 L537.8 290.6 Z"/>
<path class="ar" d="M542.8 291.5 L547.8 290.6 L547.8 292.4 Z"/>
<text class="tx" x="486.5" y="288" font-size="12" text-anchor="middle">a5</text>
<text class="tx" x="506" y="288" font-size="12" text-anchor="middle">a6</text>
<text class="tx" x="526" y="288" font-size="12" text-anchor="middle">a6</text>
<text class="tx" x="562" y="288" font-size="12" text-anchor="middle">a7</text>
<text class="tx" x="565.5" y="231" font-size="12" text-anchor="middle" textLength="38" lengthAdjust="spacing">n2-d2</text>
<path class="m" d="M585 233.4 L545 233.4 L536 222.5"/>
<text class="cj" x="498.5" y="319.5" font-size="10.3" text-anchor="middle" font-weight="bold">地脚螺栓布置图</text>
<line class="c" x1="438.5" y1="335" x2="438.5" y2="435.5"/>
<circle class="w" cx="438.5" cy="350.5" r="2.3"/>
<circle class="w" cx="438.5" cy="411.5" r="2.3"/>
<line class="c" x1="485.5" y1="335" x2="485.5" y2="435.5"/>
<circle class="w" cx="485.5" cy="350.5" r="2.3"/>
<circle class="w" cx="485.5" cy="411.5" r="2.3"/>
<line class="c" x1="533.5" y1="335" x2="533.5" y2="435.5"/>
<circle class="w" cx="533.5" cy="350.5" r="2.3"/>
<circle class="w" cx="533.5" cy="411.5" r="2.3"/>
<line class="c" x1="580.5" y1="335" x2="580.5" y2="435.5"/>
<circle class="w" cx="580.5" cy="350.5" r="2.3"/>
<circle class="w" cx="580.5" cy="411.5" r="2.3"/>
<line class="c" x1="411" y1="350.5" x2="586" y2="350.5"/>
<line class="c" x1="411" y1="411.5" x2="586" y2="411.5"/>
<line class="c" x1="425.7" y1="380.5" x2="597" y2="380.5"/>
<circle class="m" cx="438.5" cy="350.5" r="2.3"/>
<circle class="m" cx="438.5" cy="411.5" r="2.3"/>
<circle class="m" cx="485.5" cy="350.5" r="2.3"/>
<circle class="m" cx="485.5" cy="411.5" r="2.3"/>
<circle class="m" cx="533.5" cy="350.5" r="2.3"/>
<circle class="m" cx="533.5" cy="411.5" r="2.3"/>
<circle class="m" cx="580.5" cy="350.5" r="2.3"/>
<circle class="m" cx="580.5" cy="411.5" r="2.3"/>
<line class="t" x1="413.5" y1="350.5" x2="413.5" y2="412"/>
<path class="ar" d="M413.5 350.5 L414.4 355.5 L412.6 355.5 Z"/>
<path class="ar" d="M413.5 412 L412.6 407 L414.4 407 Z"/>
<text class="tx" x="410.5" y="379.5" font-size="12" text-anchor="middle" transform="rotate(-90 410.5 379.5)">b8</text>
<line class="t" x1="438" y1="433.5" x2="580.5" y2="433.5"/>
<path class="ar" d="M438 433.5 L443 432.6 L443 434.4 Z"/>
<path class="ar" d="M485.7 433.5 L480.7 434.4 L480.7 432.6 Z"/>
<path class="ar" d="M485.7 433.5 L490.7 432.6 L490.7 434.4 Z"/>
<path class="ar" d="M533.3 433.5 L528.3 434.4 L528.3 432.6 Z"/>
<path class="ar" d="M533.3 433.5 L538.3 432.6 L538.3 434.4 Z"/>
<path class="ar" d="M580.5 433.5 L575.5 434.4 L575.5 432.6 Z"/>
<text class="tx" x="463" y="430" font-size="12" text-anchor="middle">a8</text>
<text class="tx" x="511" y="430" font-size="12" text-anchor="middle">a8</text>
<text class="tx" x="559" y="430" font-size="12" text-anchor="middle">a8</text>
<text class="tx" x="567.5" y="328.3" font-size="12" text-anchor="middle" textLength="37" lengthAdjust="spacing">n3-d3</text>
<path class="m" d="M587 330 L547.6 330 L527 358"/>
</g>
<g id="drive-left">
<text class="cj" x="501" y="459" font-size="14" text-anchor="middle" font-style="italic">左装</text>
<line class="m" x1="481" y1="465.5" x2="525" y2="465.5"/>
<path class="m" d="M550.3 536 L550.3 494 L535 480 L455.5 480 L412.7 512.7 L412.7 546"/>
<line class="m2" x1="412.7" y1="546" x2="460.5" y2="572.5"/>
<line class="m" x1="426.5" y1="555" x2="426.5" y2="577"/>
<line class="n" x1="430.5" y1="557" x2="430.5" y2="572.5"/>
<line class="m" x1="430" y1="572.5" x2="460" y2="572.5"/>
<line class="m" x1="426" y1="577.5" x2="461" y2="577.5"/>
<rect class="m" x="472.5" y="481.5" width="57" height="24" rx="3"/>
<rect class="m" x="477.5" y="486.5" width="46" height="14" rx="2"/>
<rect class="m" x="487.5" y="490.5" width="17" height="7" rx="1.5"/>
<line class="t" x1="396" y1="494.5" x2="611" y2="494.5"/>
<line class="n" x1="477" y1="492.5" x2="487.5" y2="492.5"/>
<line class="n" x1="477" y1="495.5" x2="487.5" y2="495.5"/>
<line class="n" x1="504" y1="492.5" x2="523" y2="492.5"/>
<line class="n" x1="504" y1="495.5" x2="523" y2="495.5"/>
<path class="n" d="M504 491 L508 493 L508 495 L504 497"/>
<rect class="ch" x="432.5" y="508.5" width="60" height="4"/>
<path class="m" d="M440.5 508 L441.5 505.5 L444.5 505.5 L445.5 508 M440 511.2 L441.5 515 L444.5 515 L446 511.2"/>
<rect class="g" x="480.5" y="506.5" width="3" height="9"/>
<circle class="m" cx="482" cy="513.5" r="1.8"/>
<rect class="m" x="430.5" y="514.5" width="25" height="33" rx="3.5"/>
<line class="n" x1="432" y1="520.5" x2="454" y2="520.5"/>
<line class="n" x1="431" y1="537.5" x2="455" y2="537.5"/>
<circle class="bk" cx="433.3" cy="521.9" r="0.8"/>
<circle class="bk" cx="453" cy="521.9" r="0.8"/>
<circle class="bk" cx="433.3" cy="535.8" r="0.8"/>
<circle class="bk" cx="453" cy="535.8" r="0.8"/>
<line class="n" x1="437" y1="529.5" x2="449" y2="529.5"/>
<path class="ar" d="M446 529.5 L441 530.4 L441 528.6 Z"/>
<path class="ar" d="M440 529.5 L445 528.6 L445 530.4 Z"/>
<line class="n" x1="415.5" y1="523.5" x2="430.6" y2="523.5"/>
<circle class="k" cx="418" cy="523.4" r="1.3"/>
<rect class="k" x="420.5" y="521.5" width="4" height="4" rx="1"/>
<line class="n" x1="415.5" y1="533.5" x2="430.6" y2="533.5"/>
<circle class="k" cx="418" cy="533.6" r="1.3"/>
<rect class="k" x="420.5" y="532.5" width="4" height="3" rx="1"/>
<line class="c" x1="443.5" y1="500" x2="443.5" y2="607.5"/>
<line class="t" x1="396" y1="528.5" x2="460" y2="528.5"/>
<line class="t" x1="399.5" y1="494" x2="399.5" y2="528"/>
<path class="ar" d="M399.5 494 L400.4 499 L398.6 499 Z"/>
<path class="ar" d="M399.5 528 L398.6 523 L400.4 523 Z"/>
<text class="tx" x="394.8" y="511.5" font-size="14.5" text-anchor="middle" transform="rotate(-90 394.8 511.5)">B7</text>
<rect class="m" x="505.5" y="505.5" width="5" height="26"/>
<rect class="w" x="500.5" y="511.5" width="16" height="14" rx="2"/>
<line class="n" x1="500" y1="514.5" x2="516" y2="514.5"/>
<line class="g" x1="500" y1="516.5" x2="516" y2="516.5"/>
<line class="g" x1="500" y1="519.5" x2="516" y2="519.5"/>
<line class="n" x1="500" y1="522.5" x2="516" y2="522.5"/>
<rect class="m" x="503.5" y="525.5" width="10" height="3"/>
<path class="w" d="M466.8 534.8 L547 534.8 Q550 535 551 537.5 L589 537.5 L592.8 540.6 L592.8 578.3 L589 580.5 L551 580.5 Q549.5 583 546.5 583.3 L466.8 583.3 L460.4 576.8 L460.4 541.3 Z"/>
<line class="n" x1="466.8" y1="537.5" x2="551" y2="537.5"/>
<line class="m" x1="462" y1="543.5" x2="592.8" y2="543.5"/>
<line class="m" x1="462" y1="576.5" x2="592.8" y2="576.5"/>
<line class="n" x1="466.8" y1="580.5" x2="551" y2="580.5"/>
<line class="n" x1="466.5" y1="534.8" x2="466.5" y2="583.3"/>
<line class="m" x1="550.5" y1="537.5" x2="550.5" y2="580.5"/>
<line class="n" x1="586.5" y1="537.5" x2="586.5" y2="580.5"/>
<rect class="w" x="489.5" y="531.5" width="37" height="6" rx="1.5"/>
<rect class="w" x="490.5" y="580.5" width="36" height="7" rx="1.5"/>
<line class="c" x1="457" y1="559.5" x2="611" y2="559.5"/>
<line class="c" x1="508.5" y1="476" x2="508.5" y2="607.5"/>
<line class="t" x1="443" y1="606.5" x2="508" y2="606.5"/>
<path class="ar" d="M443 606.5 L448 605.6 L448 607.4 Z"/>
<path class="ar" d="M508 606.5 L503 607.4 L503 605.6 Z"/>
<text class="tx" x="476.5" y="601.5" font-size="15" text-anchor="middle">A8</text>
<line class="t" x1="593" y1="559.5" x2="611" y2="559.5"/>
<line class="t" x1="608.5" y1="494" x2="608.5" y2="559.4"/>
<path class="ar" d="M608.5 494 L609.4 499 L607.6 499 Z"/>
<path class="ar" d="M608.5 559.4 L607.6 554.4 L609.4 554.4 Z"/>
<text class="tx" x="605.5" y="526.5" font-size="14.5" text-anchor="middle" transform="rotate(-90 605.5 526.5)">B6</text>
</g>
<g id="drive-right">
<text class="cj" x="486.5" y="637" font-size="14" text-anchor="middle" font-style="italic">右装</text>
<line class="m" x1="469" y1="640.5" x2="512" y2="640.5"/>
<line class="t" x1="427.5" y1="659.5" x2="492.5" y2="659.5"/>
<path class="ar" d="M427.5 659.5 L432.5 658.6 L432.5 660.4 Z"/>
<path class="ar" d="M492.5 659.5 L487.5 660.4 L487.5 658.6 Z"/>
<text class="tx" x="461" y="656" font-size="15" text-anchor="middle">A8</text>
<path class="w" d="M452 671.8 L531 671.8 Q534 672 535 674.4 L572.5 674.4 L576 677.5 L576 714.8 L572.5 718 L535 718 Q533.5 720 530.5 720.3 L451 720.3 L444.8 713.5 L444.8 678.9 Z"/>
<line class="n" x1="451.5" y1="674.5" x2="535" y2="674.5"/>
<line class="m" x1="446" y1="679.5" x2="576" y2="679.5"/>
<line class="m" x1="446" y1="712.5" x2="576" y2="712.5"/>
<line class="n" x1="451" y1="718.5" x2="535" y2="718.5"/>
<line class="n" x1="450.5" y1="671.8" x2="450.5" y2="720.3"/>
<line class="m" x1="534.5" y1="674.4" x2="534.5" y2="718"/>
<line class="n" x1="571.5" y1="674.4" x2="571.5" y2="718"/>
<rect class="w" x="474.5" y="667.5" width="36" height="7" rx="1.5"/>
<rect class="w" x="474.5" y="718.5" width="36" height="6" rx="1.5"/>
<line class="c" x1="440" y1="696.5" x2="596" y2="696.5"/>
<line class="c" x1="427.5" y1="657" x2="427.5" y2="754"/>
<line class="c" x1="492.5" y1="657" x2="492.5" y2="777.5"/>
<path class="m" d="M444.8 679.4 L412.5 679.4 Q409.6 679.4 409.6 682.5 L409.6 701.5"/>
<line class="n" x1="413.5" y1="683" x2="413.5" y2="699.5"/>
<line class="n" x1="413.3" y1="683.5" x2="443" y2="683.5"/>
<line class="m2" x1="444.3" y1="682.4" x2="396.5" y2="708.6"/>
<path class="m" d="M396.5 708.6 L396.5 741.3 L440.4 774.7 L516 774.7 L534.5 757.5 L534.5 720"/>
<rect class="m" x="414.5" y="708.5" width="25" height="32" rx="3.5"/>
<line class="n" x1="415" y1="717.5" x2="439" y2="717.5"/>
<line class="n" x1="415" y1="736.5" x2="439" y2="736.5"/>
<circle class="bk" cx="416.9" cy="719.7" r="0.8"/>
<circle class="bk" cx="436.9" cy="719.7" r="0.8"/>
<circle class="bk" cx="416.9" cy="734.1" r="0.8"/>
<circle class="bk" cx="436.9" cy="734.1" r="0.8"/>
<line class="n" x1="421" y1="726.5" x2="433" y2="726.5"/>
<path class="ar" d="M430 726.5 L425 727.4 L425 725.6 Z"/>
<path class="ar" d="M424 726.5 L429 725.6 L429 727.4 Z"/>
<line class="n" x1="400.5" y1="721.5" x2="414.2" y2="721.5"/>
<circle class="k" cx="403" cy="721.3" r="1.3"/>
<rect class="k" x="405.5" y="719.5" width="4" height="3" rx="1"/>
<line class="n" x1="400.5" y1="731.5" x2="414.2" y2="731.5"/>
<circle class="k" cx="403" cy="731.5" r="1.3"/>
<rect class="k" x="405.5" y="729.5" width="4" height="4" rx="1"/>
<rect class="ch" x="416.5" y="742.5" width="60" height="5"/>
<path class="m" d="M424.5 743.3 L425.5 741 L428.5 741 L429.5 743.3 M424 746.7 L425.5 751 L428.5 751 L430 746.7"/>
<rect class="g" x="464.5" y="740.5" width="3" height="10"/>
<circle class="m" cx="465.5" cy="741.5" r="1.8"/>
<rect class="m" x="490.5" y="724.5" width="5" height="26"/>
<rect class="w" x="484.5" y="730.5" width="17" height="12" rx="2"/>
<line class="n" x1="484" y1="733.5" x2="501" y2="733.5"/>
<line class="g" x1="484" y1="735.5" x2="501" y2="735.5"/>
<line class="g" x1="484" y1="738.5" x2="501" y2="738.5"/>
<line class="n" x1="484" y1="740.5" x2="501" y2="740.5"/>
<rect class="m" x="487.5" y="727.5" width="10" height="3"/>
<rect class="m" x="454.5" y="750.5" width="59" height="24" rx="3"/>
<rect class="m" x="460.5" y="755.5" width="47" height="14" rx="2"/>
<rect class="m" x="471.5" y="758.5" width="15" height="8" rx="1.5"/>
<line class="n" x1="460" y1="760.5" x2="471" y2="760.5"/>
<line class="n" x1="460" y1="763.5" x2="471" y2="763.5"/>
<line class="n" x1="486" y1="760.5" x2="507.5" y2="760.5"/>
<line class="n" x1="486" y1="763.5" x2="507.5" y2="763.5"/>
<path class="n" d="M486 759 L490 761 L490 763 L486 765"/>
<line class="t" x1="385" y1="726.5" x2="447.5" y2="726.5"/>
<line class="t" x1="385" y1="762.5" x2="595" y2="762.5"/>
<line class="t" x1="387.5" y1="726.5" x2="387.5" y2="762"/>
<path class="ar" d="M387.5 726.5 L388.4 731.5 L386.6 731.5 Z"/>
<path class="ar" d="M387.5 762 L386.6 757 L388.4 757 Z"/>
<text class="tx" x="383.5" y="743" font-size="14.5" text-anchor="middle" transform="rotate(-90 383.5 743)">B7</text>
<line class="t" x1="593.5" y1="696.3" x2="593.5" y2="762"/>
<path class="ar" d="M593.5 696.3 L594.4 701.3 L592.6 701.3 Z"/>
<path class="ar" d="M593.5 762 L592.6 757 L594.4 757 Z"/>
<text class="tx" x="590" y="728" font-size="14.5" text-anchor="middle" transform="rotate(-90 590 728)">B6</text>
<text class="cj" x="486" y="804" font-size="10.3" text-anchor="middle" font-weight="bold">传动装置ZQ型减速器</text>
</g>
</svg>
</div>
</body></html>
